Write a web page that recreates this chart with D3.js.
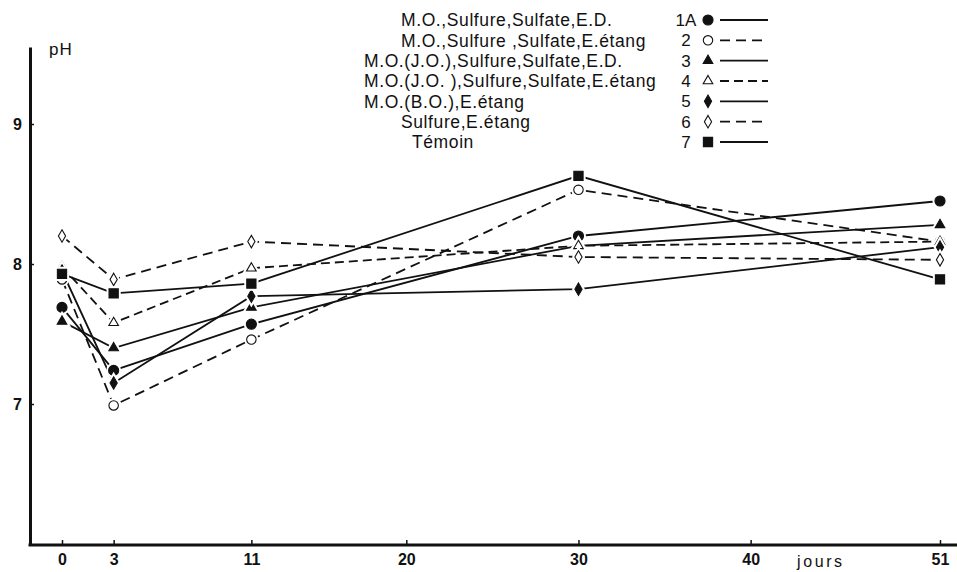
<!DOCTYPE html>
<html>
<head>
<meta charset="utf-8">
<script src="https://cdn.jsdelivr.net/npm/d3@7"></script>
<style>
	body { margin: 0; background: #fff; }
	text { font-family: "Liberation Sans", Arial, sans-serif; fill: #111; }
	.tick-label { font-family: "Liberation Sans Narrow", "Liberation Sans", sans-serif; font-weight: bold; font-size: 16px; }
</style>
</head>
<body>
<svg id="chart" width="957" height="572"></svg>
<script>
// =============================
// pH over time, 7 treatments
// =============================

// Data
const days = [0, 3, 11, 30, 51];
const xTicks = [0, 3, 11, 20, 30, 40, 51];
const yTicks = [7, 8, 9];

const labels = [
	"M.O.,Sulfure,Sulfate,E.D.",
	"M.O.,Sulfure ,Sulfate,E.étang",
	"M.O.(J.O.),Sulfure,Sulfate,E.D.",
	"M.O.(J.O. ),Sulfure,Sulfate,E.étang",
	"M.O.(B.O.),E.étang",
	"Sulfure,E.étang",
	"Témoin"];
const numbers = ["1A", "2", "3", "4", "5", "6", "7"];

const ph1 = [7.69, 7.24, 7.57, 8.20, 8.45];
const ph2 = [7.89, 6.99, 7.46, 8.53, 8.16];
const ph3 = [7.59, 7.40, 7.69, 8.13, 8.28];
const ph4 = [7.98, 7.58, 7.97, 8.13, 8.16];
const ph5 = [7.95, 7.15, 7.77, 7.82, 8.12];
const ph6 = [8.20, 7.89, 8.16, 8.05, 8.03];
const ph7 = [7.93, 7.79, 7.86, 8.63, 7.89];

// Styles for each series
const symbols = [d3.symbolCircle, d3.symbolCircle, d3.symbolTriangle, d3.symbolTriangle,
	d3.symbolDiamond, d3.symbolDiamond, d3.symbolSquare];
const symbolSizes = [80, 70, 40, 40, 45, 45, 85];
const filled = [true, false, true, false, true, false, true];
const dashes = [null, "10,6", null, "9,5", null, "10,6", null];

const series = [ph1, ph2, ph3, ph4, ph5, ph6, ph7].map((vals, i) => ({
	id: i,
	values: days.map((d, j) => ({day: d, ph: vals[j]}))
}));

// Layout
const svg = d3.select("#chart"),
	  width = +svg.attr("width"),
	  height = +svg.attr("height"),
	  axisX = 30,
	  axisY = 545;

const x = d3.scaleLinear().domain([0, 51]).range([62, 940]);
const y = d3.scaleLinear().domain([6, 9.55]).range([544, 47]);

// Y axis
const yAxis = svg.append("g")
	.attr("transform", `translate(${axisX},0)`)
	.call(d3.axisLeft(y).tickValues(yTicks).tickFormat(d3.format("d"))
		.tickSizeInner(-4).tickSizeOuter(0).tickPadding(8));
yAxis.select(".domain").attr("stroke", "#111").attr("stroke-width", 3);
yAxis.selectAll(".tick line").attr("stroke", "#111").attr("stroke-width", 1.5);
yAxis.selectAll(".tick text").attr("class", "tick-label").attr("font-family", null).attr("font-size", null);

// X axis
svg.append("line")
	.attr("x1", axisX - 1.5).attr("x2", width)
	.attr("y1", axisY).attr("y2", axisY)
	.attr("stroke", "#111").attr("stroke-width", 3);

const xAxis = svg.append("g")
	.attr("transform", `translate(0,${axisY})`)
	.call(d3.axisBottom(x).tickValues(xTicks).tickSizeInner(-5).tickSizeOuter(0).tickPadding(9));
xAxis.select(".domain").remove();
xAxis.selectAll(".tick line").attr("stroke", "#111").attr("stroke-width", 1.5);
xAxis.selectAll(".tick text").attr("class", "tick-label").attr("font-family", null).attr("font-size", null);

// Axis titles
svg.append("text")
	.text("pH")
	.attr("x", 49).attr("y", 55)
	.style("font-size", "17px")
	.style("letter-spacing", "1px");

svg.append("text")
	.text("jours")
	.attr("x", 797).attr("y", 567)
	.style("font-size", "16px")
	.style("letter-spacing", "2.6px");

// Lines
const line = d3.line().x(d => x(d.day)).y(d => y(d.ph));

svg.append("g").selectAll("path")
	.data(series)
	.enter()
	.append("path")
	.attr("d", d => line(d.values))
	.attr("fill", "none")
	.attr("stroke", "#111")
	.attr("stroke-width", 1.8)
	.attr("stroke-dasharray", d => dashes[d.id]);

// Markers, with a white halo so the lines stop short of them
const markers = svg.append("g").selectAll("g")
	.data(series)
	.enter()
	.append("g");

markers.selectAll(".halo")
	.data(d => d.values.map(v => ({...v, id: d.id})))
	.enter()
	.append("path")
	.attr("class", "halo")
	.attr("transform", d => `translate(${x(d.day)},${y(d.ph)})`)
	.attr("d", d => d3.symbol().type(symbols[d.id]).size(symbolSizes[d.id])())
	.attr("fill", "#fff")
	.attr("stroke", "#fff")
	.attr("stroke-width", 5);

markers.selectAll(".mark")
	.data(d => d.values.map(v => ({...v, id: d.id})))
	.enter()
	.append("path")
	.attr("class", "mark")
	.attr("transform", d => `translate(${x(d.day)},${y(d.ph)})`)
	.attr("d", d => d3.symbol().type(symbols[d.id]).size(symbolSizes[d.id])())
	.attr("fill", d => filled[d.id] ? "#111" : "#fff")
	.attr("stroke", "#111")
	.attr("stroke-width", 1.1);

// Legend
const legendTextX = [401, 401, 364, 364, 364, 401, 412];
const legendY = d3.scaleLinear().domain([0, 6]).range([20, 142]);

const legend = svg.append("g").selectAll("g")
	.data(labels)
	.enter()
	.append("g")
	.attr("transform", (d, i) => `translate(0,${legendY(i)})`);

legend.append("text")
	.text(d => d)
	.attr("x", (d, i) => legendTextX[i])
	.attr("dy", "0.36em")
	.style("font-size", "17.5px")
	.style("letter-spacing", "0.6px");

legend.append("text")
	.text((d, i) => numbers[i])
	.attr("x", 686)
	.attr("dy", "0.36em")
	.style("text-anchor", "middle")
	.style("font-size", "17px");

legend.append("path")
	.attr("transform", "translate(708,0)")
	.attr("d", (d, i) => d3.symbol().type(symbols[i]).size(symbolSizes[i])())
	.attr("fill", (d, i) => filled[i] ? "#111" : "#fff")
	.attr("stroke", "#111")
	.attr("stroke-width", 1.1);

legend.append("line")
	.attr("x1", 720).attr("x2", 768)
	.attr("stroke", "#111")
	.attr("stroke-width", 1.8)
	.attr("stroke-dasharray", (d, i) => dashes[i]);
</script>
</body>
</html>
